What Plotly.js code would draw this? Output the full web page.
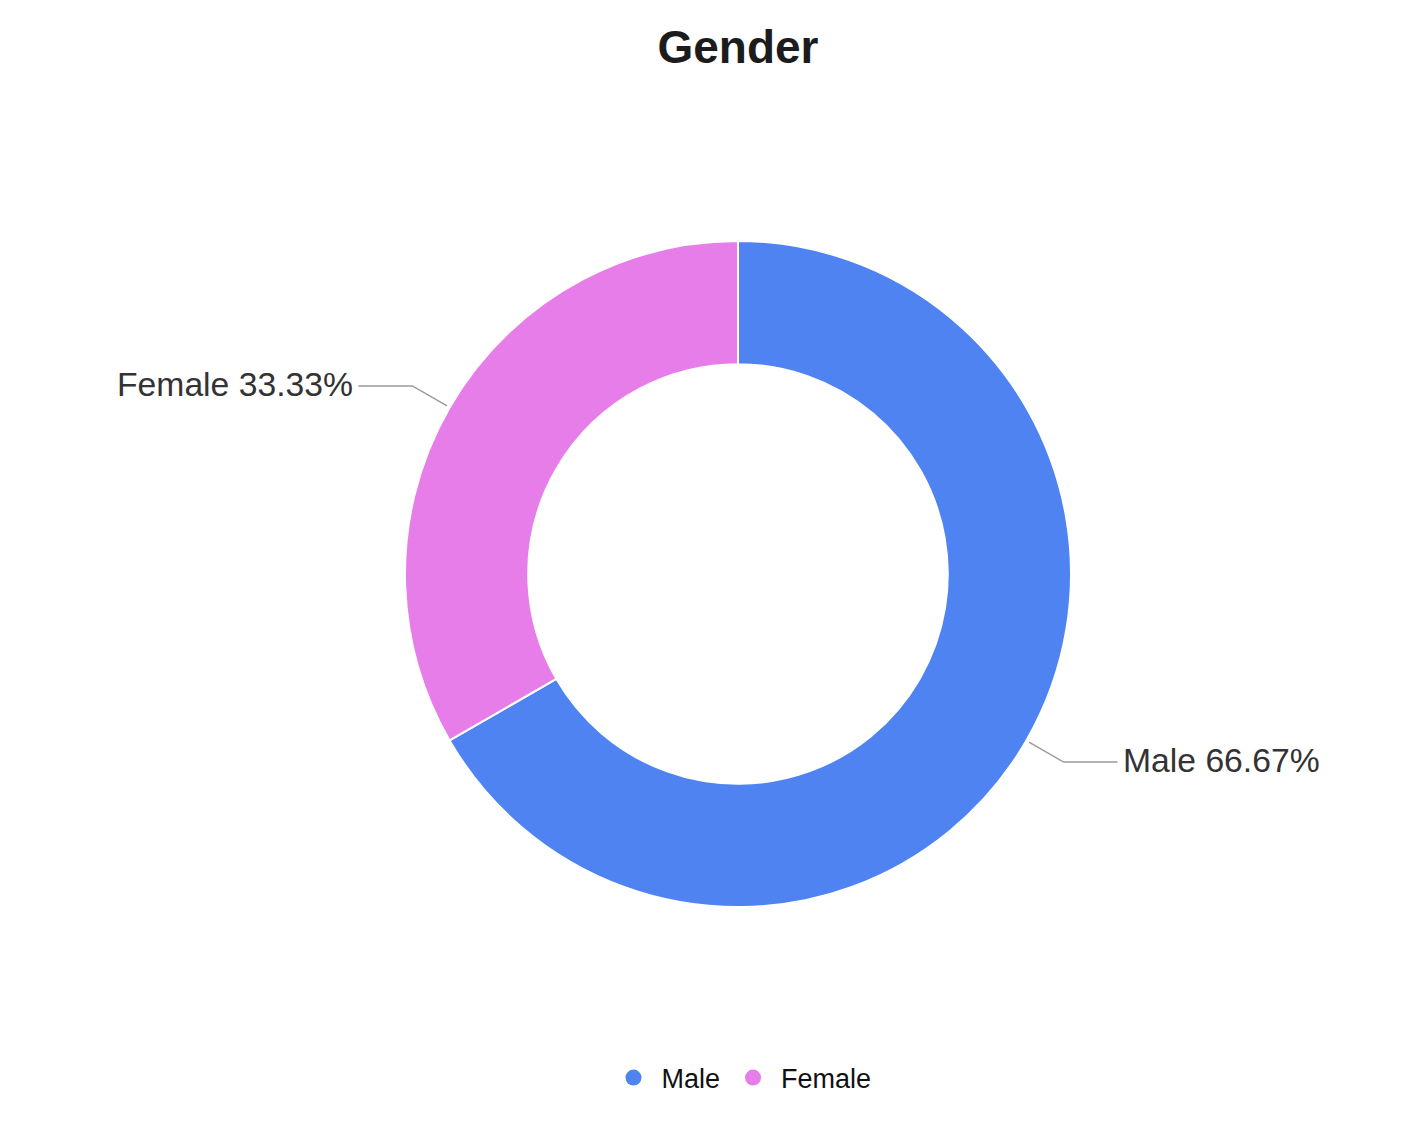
<!DOCTYPE html>
<html>
<head>
<meta charset="utf-8">
<script src="https://cdn.plot.ly/plotly-3.0.1.min.js"></script>
<style>html,body{margin:0;padding:0;background:#fff;}#chart{width:1425px;height:1122px;}</style>
</head>
<body>
<div id="chart"></div>
<script>
const categories = ["Male", "Female"];
const values = [66.67, 33.33];
const colors = ["#4e83f1", "#e77de8"];
const chartTitle = "Gender";

const W = 1425, H = 1122;
const cx = 738, cy = 574, R = 333;
const FONT = "Liberation Sans, Arial, sans-serif";

const total = values.reduce((a, b) => a + b, 0);
const px2x = p => p / W;
const px2y = p => 1 - p / H;

const shapes = [];
const annotations = [];
let cum = 0;
values.forEach((v, i) => {
  const frac = v / total;
  const th = 2 * Math.PI * (cum + frac / 2);
  cum += frac;
  const s = Math.sin(th), c = Math.cos(th);
  const r1 = R + 3, r2 = R + 43;
  const x1 = cx + r1 * s, y1 = cy - r1 * c;
  const x2 = cx + r2 * s, y2 = cy - r2 * c;
  const dir = s >= 0 ? 1 : -1;
  const x3 = x2 + dir * 54;
  shapes.push({
    type: "path", xref: "paper", yref: "paper",
    path: `M ${px2x(x1)} ${px2y(y1)} L ${px2x(x2)} ${px2y(y2)} L ${px2x(x3)} ${px2y(y2)}`,
    line: {color: "#9a9a9a", width: 1.5}
  });
  annotations.push({
    xref: "paper", yref: "paper",
    x: px2x(x3 + dir * 3), y: px2y(y2 - 2),
    xanchor: dir > 0 ? "left" : "right", yanchor: "middle",
    text: `${categories[i]} ${(frac * 100).toFixed(2)}%`,
    showarrow: false,
    font: {family: FONT, size: 33.7, color: "#333333"}
  });
});

const pie = {
  type: "pie",
  labels: categories,
  values: values,
  sort: false,
  direction: "clockwise",
  rotation: 0,
  hole: 0.63,
  marker: {colors: colors, line: {color: "#ffffff", width: 2}},
  textinfo: "none",
  hoverinfo: "label+percent",
  showlegend: false,
  domain: {x: [(cx - R) / W, (cx + R) / W], y: [1 - (cy + R) / H, 1 - (cy - R) / H]}
};

const legendTraces = categories.map((c, i) => ({
  type: "scatter", mode: "markers", x: [null], y: [null],
  name: c, marker: {color: colors[i], size: 20, symbol: "circle"},
  showlegend: true, hoverinfo: "skip"
}));

const layout = {
  width: W, height: H,
  margin: {l: 0, r: 0, t: 0, b: 0},
  paper_bgcolor: "#ffffff", plot_bgcolor: "#ffffff",
  title: {text: "<b>" + chartTitle + "</b>", x: cx / W, xanchor: "center", y: 1 - 47 / H, yanchor: "middle", yref: "container",
          font: {family: FONT, size: 46, color: "#1c1c1c"}},
  xaxis: {visible: false}, yaxis: {visible: false},
  showlegend: true,
  legend: {orientation: "h", x: 741 / W, xanchor: "center", y: 1 - 1078 / H, yanchor: "middle",
           font: {family: FONT, size: 27, color: "#111111"}, itemwidth: 46},
  shapes: shapes,
  annotations: annotations
};

Plotly.newPlot("chart", [pie, ...legendTraces], layout, {displayModeBar: false, staticPlot: true});
</script>
</body>
</html>
